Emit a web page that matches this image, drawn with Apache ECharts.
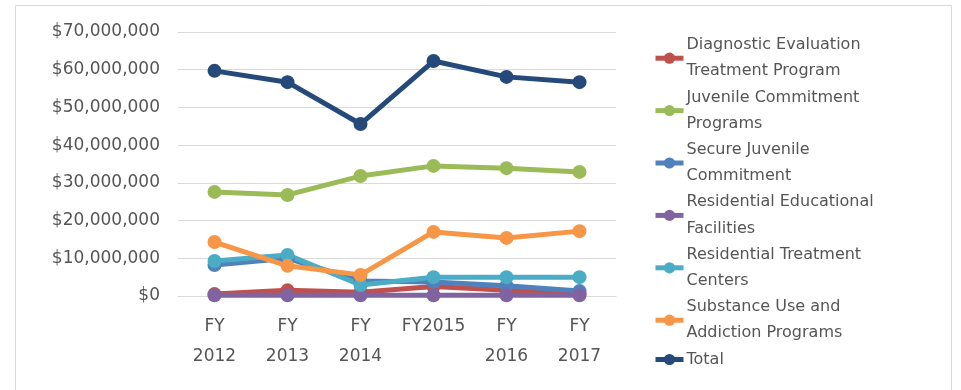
<!DOCTYPE html>
<html>
<head>
<meta charset="utf-8">
<script src="https://cdn.jsdelivr.net/npm/echarts@6/dist/echarts.min.js"></script>
<style>
  html, body { margin: 0; padding: 0; background: #ffffff; }
  #chart { width: 961px; height: 390px; }
</style>
</head>
<body>
<div id="chart"></div>
<script>
// Fiscal years along the x axis
const categories = ['FY\n2012', 'FY\n2013', 'FY\n2014', 'FY2015', 'FY\n2016', 'FY\n2017'];

// Spending by program, in dollars
const diagnosticEvaluation = [500000, 1500000, 1000000, 2500000, 1500000, 500000];
const juvenileCommitment = [27600000, 26800000, 31800000, 34500000, 33900000, 32900000];
const secureJuvenile = [8200000, 10000000, 4000000, 3700000, 2700000, 1300000];
const residentialEducational = [200000, 200000, 200000, 200000, 200000, 200000];
const residentialTreatment = [9300000, 10900000, 2900000, 5000000, 5000000, 5000000];
const substanceUse = [14300000, 8000000, 5600000, 17000000, 15400000, 17200000];
const total = [59700000, 56700000, 45600000, 62300000, 58100000, 56700000];

// Y axis ticks
const yTicks = [0, 10000000, 20000000, 30000000, 40000000, 50000000, 60000000, 70000000];

const seriesNames = [
  'Diagnostic Evaluation\nTreatment Program',
  'Juvenile Commitment\nPrograms',
  'Secure Juvenile\nCommitment',
  'Residential Educational\nFacilities',
  'Residential Treatment\nCenters',
  'Substance Use and\nAddiction Programs',
  'Total'
];
const seriesValues = [
  diagnosticEvaluation, juvenileCommitment, secureJuvenile,
  residentialEducational, residentialTreatment, substanceUse, total
];
const seriesColors = ['#c0504d', '#9bbb59', '#4f81bd', '#8064a2', '#4bacc6', '#f79646', '#254a7a'];

const FONT = 'DejaVu Sans';

function money(v) {
  return '$' + v.toString().replace(/\B(?=(\d{3})+(?!\d))/g, ',');
}

const chart = echarts.init(document.getElementById('chart'), null, { renderer: 'canvas' });

chart.setOption({
  animation: false,
  backgroundColor: '#ffffff',
  graphic: [{
    type: 'polyline',
    shape: { points: [[15.5, 400], [15.5, 5.5], [951.5, 5.5], [951.5, 400]] },
    style: { stroke: '#d9d9d9', lineWidth: 1, fill: null },
    silent: true
  }],
  grid: { left: 178, right: 345, top: 32, bottom: 94, containLabel: false },
  legend: {
    orient: 'vertical',
    left: 653,
    top: 32,
    padding: 0,
    itemGap: 0,
    itemWidth: 28,
    itemHeight: 14,
    selectedMode: false,
    data: seriesNames,
    lineStyle: { width: 5 },
    textStyle: {
      fontFamily: FONT,
      fontSize: 16,
      color: '#555555',
      lineHeight: 26.2,
      padding: [0, 0, 0, -2]
    }
  },
  xAxis: {
    type: 'category',
    data: categories,
    boundaryGap: true,
    axisLine: { show: true, lineStyle: { color: '#d9d9d9', width: 1 } },
    axisTick: { show: false },
    axisLabel: {
      interval: 0,
      margin: 16,
      fontFamily: FONT,
      fontSize: 17,
      color: '#555555',
      lineHeight: 30
    }
  },
  yAxis: {
    type: 'value',
    min: 0,
    max: 70000000,
    interval: 10000000,
    axisLine: { show: false },
    axisTick: { show: false },
    splitLine: { lineStyle: { color: '#d9d9d9', width: 1 } },
    axisLabel: {
      margin: 18,
      padding: [10, 0, 0, 0],
      fontFamily: FONT,
      fontSize: 17,
      color: '#555555',
      formatter: function (v) { return yTicks.indexOf(v) >= 0 ? money(v) : ''; }
    }
  },
  series: seriesNames.map(function (name, i) {
    return {
      name: name,
      type: 'line',
      data: seriesValues[i],
      symbol: 'circle',
      symbolSize: 14,
      showAllSymbol: true,
      lineStyle: { color: seriesColors[i], width: 5 },
      itemStyle: { color: seriesColors[i] },
      emphasis: { disabled: true }
    };
  })
});
</script>
</body>
</html>
